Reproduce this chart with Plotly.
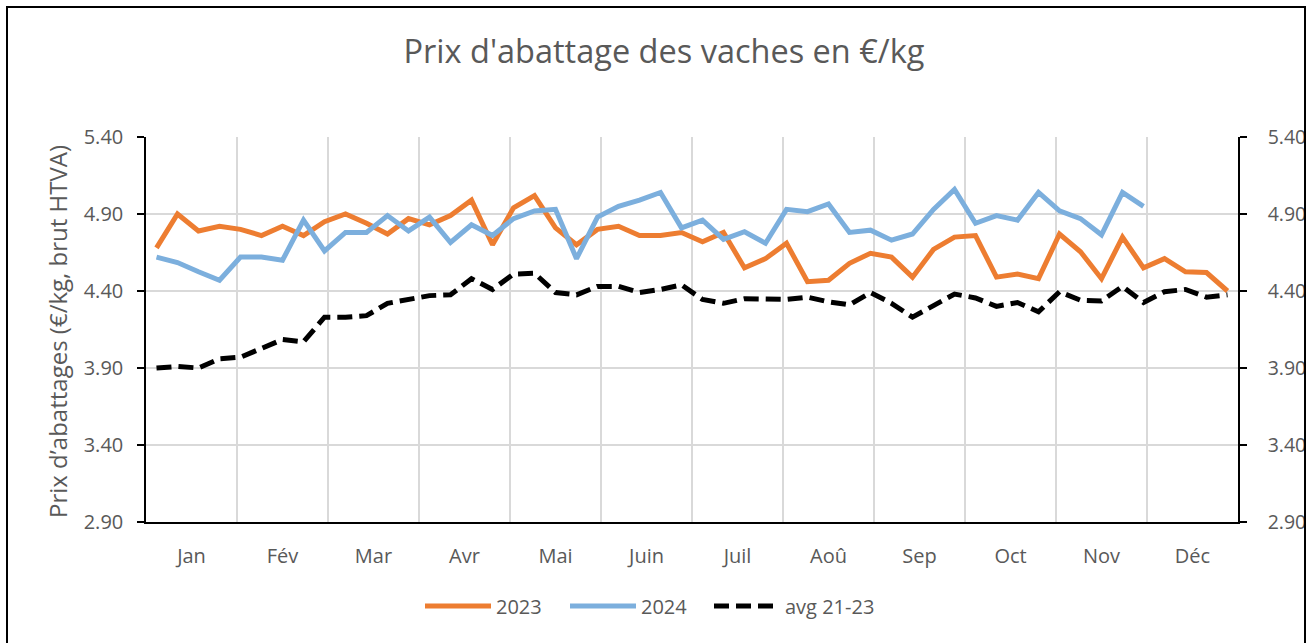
import plotly.graph_objects as go

months = ["Jan", "Fév", "Mar", "Avr", "Mai", "Juin", "Juil", "Aoû", "Sep", "Oct", "Nov", "Déc"]
weeks = list(range(52))

y2023 = [4.68, 4.90, 4.79, 4.82, 4.80, 4.76, 4.82, 4.76, 4.85, 4.90, 4.84, 4.77, 4.87, 4.83,
         4.89, 4.99, 4.70, 4.94, 5.02, 4.81, 4.70, 4.80, 4.82, 4.76, 4.76, 4.78, 4.72, 4.78,
         4.55, 4.61, 4.71, 4.46, 4.47, 4.58, 4.645, 4.62, 4.49, 4.67, 4.75, 4.76, 4.49, 4.51,
         4.48, 4.77, 4.655, 4.48, 4.75, 4.55, 4.61, 4.525, 4.52, 4.40]

y2024 = [4.62, 4.585, 4.525, 4.47, 4.62, 4.62, 4.60, 4.86, 4.66, 4.78, 4.78, 4.89, 4.79, 4.88,
         4.715, 4.83, 4.76, 4.87, 4.92, 4.93, 4.61, 4.88, 4.95, 4.99, 5.04, 4.81, 4.86, 4.735,
         4.785, 4.71, 4.93, 4.915, 4.965, 4.78, 4.795, 4.73, 4.77, 4.93, 5.06, 4.84, 4.89, 4.86,
         5.04, 4.92, 4.87, 4.765, 5.04, 4.95]

avg2123 = [3.90, 3.91, 3.90, 3.96, 3.97, 4.03, 4.085, 4.07, 4.23, 4.23, 4.24, 4.32, 4.345, 4.37,
           4.375, 4.48, 4.41, 4.51, 4.515, 4.39, 4.375, 4.43, 4.43, 4.39, 4.41, 4.44, 4.345, 4.32,
           4.35, 4.345, 4.345, 4.36, 4.33, 4.31, 4.39, 4.32, 4.23, 4.305, 4.38, 4.355, 4.30, 4.325,
           4.265, 4.395, 4.34, 4.335, 4.43, 4.325, 4.395, 4.41, 4.36, 4.375]

y_ticks = [2.90, 3.40, 3.90, 4.40, 4.90, 5.40]

FONT = "Open Sans, Lato, sans-serif"
GREY = "#595959"
nweeks = len(weeks)
per_month = nweeks / 12
month_centers = [(k + 0.5) * per_month - 0.5 for k in range(12)]
month_bounds = [k * per_month - 0.5 for k in range(13)]

W, H = 1310, 643
L, T = 146, 137
R = W - 1238
B = H - 522
pw, ph = W - L - R, H - T - B

def px_x(p):
    return (p - L) / pw

def px_y(p):
    return (H - B - p) / ph

fig = go.Figure()
fig.add_trace(go.Scatter(x=weeks[:len(y2023)], y=y2023, mode="lines", name="2023",
                         legend="legend",
                         line=dict(color="#ED7D31", width=5)))
fig.add_trace(go.Scatter(x=weeks[:len(y2024)], y=y2024, mode="lines", name="2024",
                         legend="legend2",
                         line=dict(color="#7CAFDD", width=5)))
fig.add_trace(go.Scatter(x=weeks[:len(avg2123)], y=avg2123, mode="lines", name="avg 21-23",
                         legend="legend3",
                         line=dict(color="#000000", width=5, dash="15px,7px")))
# invisible trace to anchor the right axis
fig.add_trace(go.Scatter(x=weeks[:1], y=avg2123[:1], yaxis="y2", mode="lines",
                         showlegend=False, hoverinfo="skip", line=dict(width=0), opacity=0))

def leg(xpix):
    return dict(orientation="h", x=px_x(xpix), xanchor="left", y=px_y(606), yanchor="middle",
                font=dict(family=FONT, size=20, color=GREY), itemwidth=66,
                bgcolor="rgba(0,0,0,0)")

fig.update_layout(
    width=W, height=H,
    margin=dict(l=L, r=R, t=T, b=B, autoexpand=False),
    paper_bgcolor="white", plot_bgcolor="white",
    font=dict(family=FONT, color=GREY, size=19),
    title=dict(text="Prix d'abattage des vaches en €/kg", xref="container",
               x=664 / W, xanchor="center",
               yref="container", y=1 - 52 / H, yanchor="middle",
               font=dict(family=FONT, size=32.5, color=GREY)),
    xaxis=dict(range=[-0.5, nweeks - 0.5], tickmode="array", tickvals=month_centers,
               ticktext=months, ticks="", showgrid=False, zeroline=False,
               showline=True, linecolor="black", linewidth=1.5,
               ticklabelstandoff=15,
               tickfont=dict(family=FONT, size=20, color=GREY),
               minor=dict(tickmode="array", tickvals=month_bounds, showgrid=True,
                          gridcolor="#d9d9d9", gridwidth=1.5, ticks="")),
    yaxis=dict(range=[2.90, 5.40], tickmode="array", tickvals=y_ticks,
               tickformat=".2f", showgrid=True, gridcolor="#d9d9d9", gridwidth=1.5,
               zeroline=False, showline=True, linecolor="black", linewidth=1.5,
               ticks="outside", ticklen=7, tickcolor="black", tickwidth=1.5,
               ticklabelstandoff=10,
               tickfont=dict(family=FONT, size=20, color=GREY)),
    yaxis2=dict(range=[2.90, 5.40], tickmode="array", tickvals=y_ticks,
                tickformat=".2f", overlaying="y", side="right", showgrid=False,
                zeroline=False, showline=True, linecolor="black", linewidth=1.5,
                ticks="outside", ticklen=7, tickcolor="black", tickwidth=1.5,
                ticklabelstandoff=17,
                tickfont=dict(family=FONT, size=19.5, color=GREY)),
    legend=leg(420),
    legend2=leg(565),
    legend3=leg(709),
    showlegend=True,
    annotations=[dict(text="Prix d’abattages (€/kg, brut HTVA)", textangle=-90,
                      xref="paper", yref="paper", x=px_x(57), y=px_y(332),
                      xanchor="center", yanchor="middle", showarrow=False,
                      font=dict(family=FONT, size=24, color=GREY))],
    shapes=[dict(type="rect", xref="paper", yref="paper",
                 x0=px_x(7), x1=px_x(1305), y0=px_y(700), y1=px_y(7),
                 line=dict(color="black", width=2), fillcolor="rgba(0,0,0,0)", layer="above")],
)

fig.write_html(
    "out.html",
    config={"displayModeBar": False},
    post_script="document.body.style.margin='0px';"
                "document.body.style.overflow='hidden';"
                "document.documentElement.style.overflow='hidden';",
)
